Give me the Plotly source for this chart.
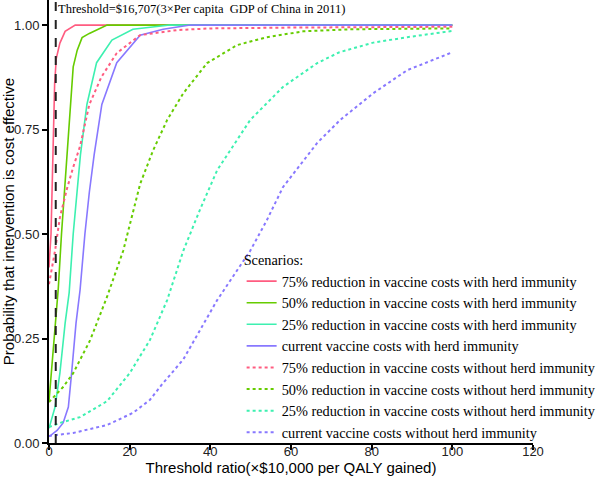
import plotly.graph_objects as go

# Series data (threshold ratio x, probability cost-effective y)
names = [
    "75% reduction in vaccine costs with herd immunity",
    "50% reduction in vaccine costs with herd immunity",
    "25% reduction in vaccine costs with herd immunity",
    "current vaccine costs with herd immunity",
    "75% reduction in vaccine costs without herd immunity",
    "50% reduction in vaccine costs without herd immunity",
    "25% reduction in vaccine costs without herd immunity",
    "current vaccine costs without herd immunity",
]

x_75_herd = [0, 0.5, 0.8, 1.1, 1.4, 1.8, 2.7, 4, 6.5, 100]
y_75_herd = [0.42, 0.50, 0.62, 0.72, 0.86, 0.92, 0.957, 0.985, 1.0, 1.0]

x_50_herd = [0, 1, 2.3, 3.1, 4.4, 5, 6, 7, 8.2, 10, 12, 14.4, 100]
y_50_herd = [0.10, 0.22, 0.37, 0.50, 0.69, 0.78, 0.90, 0.94, 0.97, 0.98, 0.99, 1.0, 1.0]

x_25_herd = [0, 1.5, 2.7, 4, 5, 6, 7.8, 9.4, 11.8, 15.6, 20.8, 25, 30, 100]
y_25_herd = [0.035, 0.086, 0.167, 0.287, 0.36, 0.50, 0.69, 0.81, 0.91, 0.964, 0.99, 0.995, 1.0, 1.0]

x_cur_herd = [0, 2, 3.5, 4.8, 5.6, 6.7, 7.7, 8.9, 10, 11.2, 13.1, 16.8, 22.6, 28.3, 35, 100]
y_cur_herd = [0.015, 0.03, 0.048, 0.086, 0.167, 0.287, 0.366, 0.50, 0.60, 0.69, 0.81, 0.91, 0.976, 0.99, 1.0, 1.0]

x_75_noherd = [0, 1.5, 2.7, 4.5, 6, 7.7, 10, 13, 16.8, 22.6, 31.7, 40, 60, 80, 100]
y_75_noherd = [0.38, 0.46, 0.54, 0.61, 0.66, 0.71, 0.81, 0.876, 0.933, 0.976, 0.988, 0.992, 0.994, 0.995, 0.996]

x_50_noherd = [0, 3.5, 6, 10.2, 14.4, 18.4, 22.6, 25.8, 29.3, 33.3, 39.2, 46.6, 54, 63, 74.7, 100]
y_50_noherd = [0.098, 0.134, 0.167, 0.246, 0.35, 0.46, 0.62, 0.70, 0.773, 0.837, 0.909, 0.952, 0.971, 0.985, 0.99, 0.992]

x_25_noherd = [0, 2.7, 7.7, 14.4, 20, 25, 29.3, 33.3, 37.5, 41.7, 49.9, 58, 66.5, 72, 80.4, 88.8, 100]
y_25_noherd = [0.038, 0.048, 0.062, 0.10, 0.167, 0.246, 0.342, 0.46, 0.56, 0.653, 0.773, 0.852, 0.909, 0.935, 0.958, 0.971, 0.986]

x_cur_noherd = [0, 6, 14.4, 20.8, 25, 28, 33.3, 41.7, 49.9, 54, 58, 66.5, 72.2, 80.4, 88.8, 95.3, 100]
y_cur_noherd = [0.017, 0.024, 0.043, 0.072, 0.103, 0.14, 0.20, 0.342, 0.46, 0.533, 0.612, 0.718, 0.773, 0.837, 0.892, 0.916, 0.935]

threshold_x = 1.6707
y_ticks = [0, 0.25, 0.5, 0.75, 1.0]
x_ticks = [0, 20, 40, 60, 80, 100, 120]

colors = ["#FF5C80", "#66CC00", "#3DF0B0", "#8878FF"]

series = [
    (x_75_herd, y_75_herd), (x_50_herd, y_50_herd), (x_25_herd, y_25_herd), (x_cur_herd, y_cur_herd),
    (x_75_noherd, y_75_noherd), (x_50_noherd, y_50_noherd), (x_25_noherd, y_25_noherd), (x_cur_noherd, y_cur_noherd),
]

fig = go.Figure()
for i, ((xs, ys), nm) in enumerate(zip(series, names)):
    solid = i < 4
    fig.add_trace(go.Scatter(
        x=xs, y=ys, mode="lines", name=nm,
        line=dict(color=colors[i % 4], width=1.6 if solid else 2, dash="solid" if solid else "dot"),
    ))

fig.add_shape(type="line", xref="x", yref="paper", x0=threshold_x, x1=threshold_x, y0=0, y1=1,
              line=dict(color="#222222", width=2, dash="dash"))

fig.add_annotation(x=threshold_x, y=1.0, xref="x", yref="paper", xanchor="left", yanchor="top",
                   text="Threshold=$16,707(3×Per capita\u00a0 GDP of China in 2011)", showarrow=False,
                   font=dict(family="Liberation Serif", size=12.5, color="black"), xshift=0, yshift=0)

fig.update_layout(
    width=600, height=480,
    margin=dict(l=49, r=67, t=0, b=37, autoexpand=False),
    plot_bgcolor="white", paper_bgcolor="white",
    showlegend=True,
    legend=dict(
        x=0.398, y=0.443, xanchor="left", yanchor="top",
        title=dict(text="Scenarios:", font=dict(family="Liberation Serif", size=14.3, color="black")),
        font=dict(family="Liberation Serif", size=14.3, color="black"),
        bgcolor="rgba(0,0,0,0)", itemwidth=30, tracegroupgap=0,
    ),
    xaxis=dict(
        range=[0, 120], tickvals=x_ticks, ticks="outside", ticklen=5, tickwidth=1.5, tickcolor="black",
        showline=True, linecolor="black", linewidth=2, showgrid=False, zeroline=False, automargin=False,
        ticklabelstandoff=-10,
        tickfont=dict(family="Liberation Sans", size=13, color="#222222"),
        title=dict(text="Threshold ratio(×$10,000 per QALY gained)", standoff=2,
                   font=dict(family="Liberation Sans", size=15, color="black")),
    ),
    yaxis=dict(
        range=[0, 1.06], tickvals=y_ticks, tickformat=".2f", ticks="outside", ticklen=5, tickwidth=1.5,
        tickcolor="black", showline=True, linecolor="black", linewidth=2, showgrid=False, zeroline=False,
        automargin=False,
        tickfont=dict(family="Liberation Sans", size=13, color="#222222"),
        title=dict(text="Probability that intervention is cost effective", standoff=4,
                   font=dict(family="Liberation Sans", size=15, color="black")),
    ),
)

fig.write_html("out.html", config={"displayModeBar": False},
               post_script="document.body.style.margin='0';document.body.style.overflow='hidden';")
